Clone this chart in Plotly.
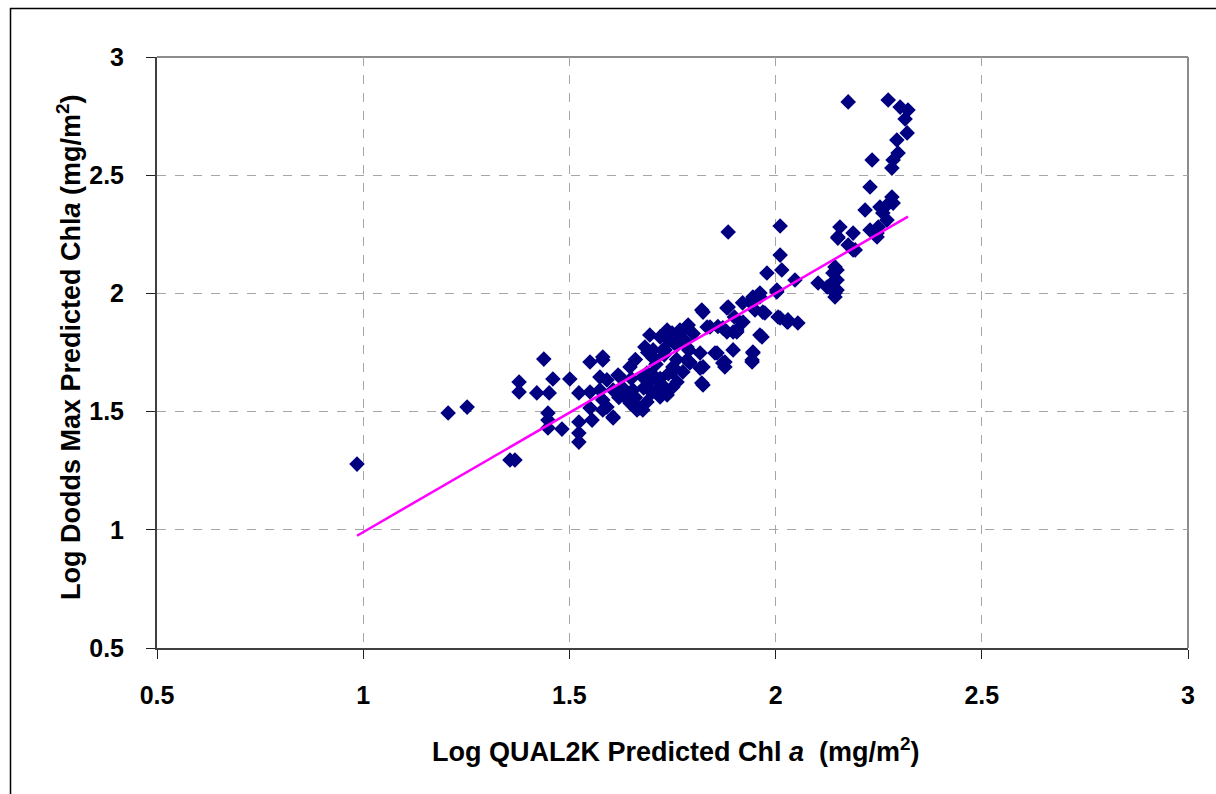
import plotly.graph_objects as go

# Log10 chlorophyll a: QUAL2K prediction (x) vs Dodds maximum prediction (y)
q2k_log = [
    0.985, 1.206, 1.252, 1.356, 1.368, 1.438, 1.378, 1.378, 1.421, 1.451,
    1.460, 1.501, 1.523, 1.550, 1.550, 1.581, 1.448, 1.448, 1.448, 1.482,
    1.523, 1.523, 1.523, 1.555, 1.550, 1.591, 1.606, 1.574, 1.623, 1.647,
    1.678, 1.664, 1.606, 1.688, 1.703, 1.744, 1.720, 1.751, 1.824, 1.882,
    1.945, 1.962, 2.003, 1.969, 2.006, 2.030, 2.054, 1.962, 1.945, 1.943,
    1.882, 1.841, 1.897, 1.872, 1.824, 1.858, 1.751, 1.792, 1.768, 1.737,
    1.727, 1.817, 1.921, 1.906, 1.885, 2.011, 2.011, 2.015, 1.979, 2.047,
    2.003, 1.962, 1.943, 1.974, 1.821, 1.885, 1.906, 1.967, 2.028, 1.785,
    1.785, 1.877, 1.834, 2.156, 2.151, 2.188, 2.188, 2.217, 2.253, 2.270,
    2.246, 2.285, 2.144, 2.144, 2.144, 2.103, 2.125, 2.139, 2.176, 2.273,
    2.302, 2.321, 2.314, 2.319, 2.294, 2.297, 2.285, 2.282, 2.234, 2.229,
    2.282, 2.270, 2.260, 2.249, 2.229, 2.246, 2.151, 2.193, 2.176, 2.149,
    2.149, 2.149, 2.144, 1.938, 2.011, 2.030, 1.897, 1.872, 1.945, 1.943,
    1.877, 1.853, 1.788, 1.768, 1.749, 1.695, 1.720, 1.683, 1.703, 1.732,
    1.785, 1.817, 1.824, 1.792, 1.775, 1.761, 1.821, 1.678, 1.695, 1.725,
    1.737, 1.720, 1.688, 1.671, 1.647, 1.635, 1.606, 1.581, 1.581, 1.618,
    1.591, 1.581, 1.574, 1.647, 1.654, 1.749, 1.660, 1.690, 1.710, 1.730,
    1.760, 1.780, 1.800, 1.700, 1.720, 1.740, 1.680, 1.760, 1.790, 1.630,
    1.650, 1.620, 1.660, 1.700, 1.730, 1.770, 1.860, 1.900, 1.920, 1.950,
]
dodds_log = [
    1.278, 1.494, 1.519, 1.295, 1.295, 1.722, 1.625, 1.583, 1.579, 1.579,
    1.638, 1.638, 1.579, 1.583, 1.710, 1.718, 1.494, 1.464, 1.431, 1.426,
    1.456, 1.371, 1.409, 1.464, 1.515, 1.519, 1.477, 1.646, 1.646, 1.549,
    1.507, 1.507, 1.591, 1.663, 1.761, 1.803, 1.604, 1.689, 1.921, 1.938,
    1.985, 2.002, 2.006, 1.921, 1.900, 1.888, 1.875, 1.824, 1.752, 1.718,
    1.837, 1.858, 1.761, 1.706, 1.613, 1.748, 1.604, 1.710, 1.816, 1.845,
    1.761, 1.684, 1.879, 1.845, 2.260, 2.285, 2.162, 2.099, 2.086, 2.057,
    2.014, 1.985, 1.972, 1.917, 1.930, 1.942, 1.837, 1.816, 1.879, 1.858,
    1.718, 1.689, 1.858, 2.281, 2.234, 2.255, 2.184, 2.353, 2.365, 2.310,
    2.255, 2.382, 2.112, 2.057, 2.002, 2.044, 2.027, 2.086, 2.810, 2.818,
    2.788, 2.776, 2.738, 2.679, 2.649, 2.594, 2.564, 2.530, 2.564, 2.450,
    2.408, 2.374, 2.340, 2.281, 2.268, 2.239, 2.239, 2.184, 2.205, 2.099,
    2.057, 2.014, 1.985, 1.964, 1.896, 1.879, 1.837, 1.854, 1.748, 1.710,
    1.710, 1.748, 1.866, 1.845, 1.832, 1.824, 1.816, 1.773, 1.727, 1.761,
    1.773, 1.748, 1.689, 1.706, 1.668, 1.625, 1.621, 1.646, 1.625, 1.613,
    1.570, 1.562, 1.541, 1.515, 1.536, 1.562, 1.473, 1.507, 1.549, 1.655,
    1.634, 1.731, 1.591, 1.689, 1.591, 1.668, 1.720, 1.750, 1.700, 1.740,
    1.780, 1.800, 1.830, 1.660, 1.640, 1.660, 1.600, 1.720, 1.760, 1.600,
    1.640, 1.560, 1.560, 1.580, 1.820, 1.840, 1.860, 1.900, 1.960, 1.930,
]

# Linear trend line end points
trend_x = [0.985, 2.321]
trend_y = [0.975, 2.325]

# Axis ticks
tick_vals = [0.5, 1, 1.5, 2, 2.5, 3]
tick_text = ["0.5", "1", "1.5", "2", "2.5", "3"]

FONT = "Liberation Sans, Arial, sans-serif"
W, H = 1216, 794
L, R, T, B = 157, 1188, 57, 648  # plot area edges in pixels


def px_x(px):
    return (px - L) / (R - L)


def px_y(py):
    return (B - py) / (B - T)


fig = go.Figure()

fig.add_trace(go.Scatter(
    x=q2k_log, y=dodds_log, mode="markers",
    marker=dict(symbol="diamond", size=12, color="#000080", line=dict(width=0)),
    showlegend=False, hoverinfo="x+y",
))

fig.add_trace(go.Scatter(
    x=trend_x, y=trend_y, mode="lines",
    line=dict(color="#FF00FF", width=2.5),
    showlegend=False, hoverinfo="skip",
))

axis_common = dict(
    range=[0.5, 3], tickmode="array", tickvals=tick_vals, ticktext=tick_text,
    showgrid=True, gridcolor="#A6A6A6", griddash="dash", gridwidth=1,
    zeroline=False, showline=True, linecolor="#404040", linewidth=2,
    ticks="outside", ticklen=9, tickcolor="#202020", tickwidth=1,
    tickfont=dict(family=FONT, size=25, color="black", weight="bold"),
    fixedrange=True,
)

fig.update_layout(
    width=W, height=H,
    margin=dict(l=L, r=W - R, t=T, b=H - B),
    paper_bgcolor="white", plot_bgcolor="white",
    xaxis=dict(axis_common, ticklabelstandoff=15),
    yaxis=dict(axis_common, ticklabelstandoff=17),
    shapes=[
        # plot area border (top and right in gray)
        dict(type="line", xref="paper", yref="paper", x0=0, x1=1, y0=1, y1=1,
             line=dict(color="#8C8C8C", width=2), layer="below"),
        dict(type="line", xref="paper", yref="paper", x0=1, x1=1, y0=0, y1=1,
             line=dict(color="#8C8C8C", width=2), layer="below"),
        # outer chart frame
        dict(type="line", xref="paper", yref="paper",
             x0=px_x(10), x1=px_x(W + 5), y0=px_y(8.5), y1=px_y(8.5),
             line=dict(color="black", width=1.5)),
        dict(type="line", xref="paper", yref="paper",
             x0=px_x(10.5), x1=px_x(10.5), y0=px_y(8), y1=px_y(H + 5),
             line=dict(color="black", width=1.5)),
    ],
    annotations=[
        dict(text="Log QUAL2K Predicted Chl <i>a</i>  (mg/m<sup>2</sup>)",
             xref="paper", yref="paper", x=px_x(676), y=px_y(750),
             showarrow=False, xanchor="center", yanchor="middle",
             font=dict(family=FONT, size=27, color="black", weight="bold")),
        dict(text="Log Dodds Max Predicted Chl<i>a</i> (mg/m<sup>2</sup>)",
             xref="paper", yref="paper", x=px_x(69), y=px_y(347),
             showarrow=False, xanchor="center", yanchor="middle", textangle=-90,
             font=dict(family=FONT, size=27, color="black", weight="bold")),
    ],
)

fig.write_html("out.html")
